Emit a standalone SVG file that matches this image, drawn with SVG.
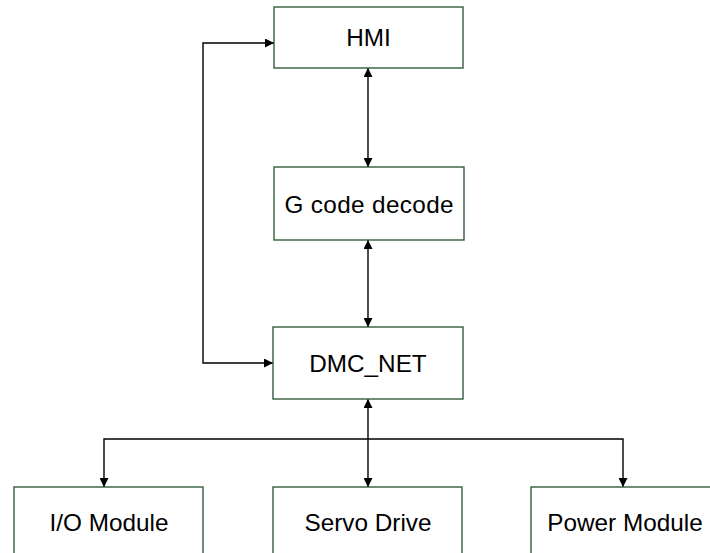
<svg xmlns="http://www.w3.org/2000/svg" width="710" height="553" viewBox="0 0 710 553">
<style>
.box{fill:#fff;stroke:#335c3b;stroke-width:1.4}
.lbl{font-family:"Liberation Sans",Arial,sans-serif;font-size:24.3px;fill:#000;text-anchor:middle}
.ln{fill:none;stroke:#000;stroke-width:1.4}
</style>
<defs>
<marker id="ah" viewBox="0 0 10 10" refX="10" refY="5" markerWidth="10" markerHeight="9" markerUnits="userSpaceOnUse" orient="auto-start-reverse">
<path d="M0,0 L10,5 L0,10 Z" fill="#000"/>
</marker>
</defs>
<rect width="710" height="553" fill="#fff"/>
<g id="connectors">
<path class="ln" d="M368,68 V167" marker-start="url(#ah)" marker-end="url(#ah)"/>
<path class="ln" d="M368,240 V327" marker-start="url(#ah)" marker-end="url(#ah)"/>
<path class="ln" d="M368,399 V487" marker-start="url(#ah)" marker-end="url(#ah)"/>
<path class="ln" d="M274,43 H203 V363 H273" marker-start="url(#ah)" marker-end="url(#ah)"/>
<path class="ln" d="M104,487 V439 H623 V487" marker-start="url(#ah)" marker-end="url(#ah)"/>
</g>
<g id="hmi">
<rect class="box" x="274" y="7" width="189" height="61"/>
<text class="lbl" x="368.5" y="46">HMI</text>
</g>
<g id="gcode">
<rect class="box" x="274" y="167" width="190" height="73"/>
<text class="lbl" x="369" y="212.5" textLength="169" lengthAdjust="spacing">G code decode</text>
</g>
<g id="dmcnet">
<rect class="box" x="273" y="327" width="190" height="72"/>
<text class="lbl" x="368" y="371.5">DMC_NET</text>
</g>
<g id="io">
<rect class="box" x="14" y="487" width="189" height="80"/>
<text class="lbl" x="109" y="531">I/O Module</text>
</g>
<g id="servo">
<rect class="box" x="273" y="487" width="189" height="80"/>
<text class="lbl" x="368" y="531">Servo Drive</text>
</g>
<g id="power">
<rect class="box" x="531" y="487" width="189" height="80"/>
<text class="lbl" x="625" y="531">Power Module</text>
</g>
</svg>
